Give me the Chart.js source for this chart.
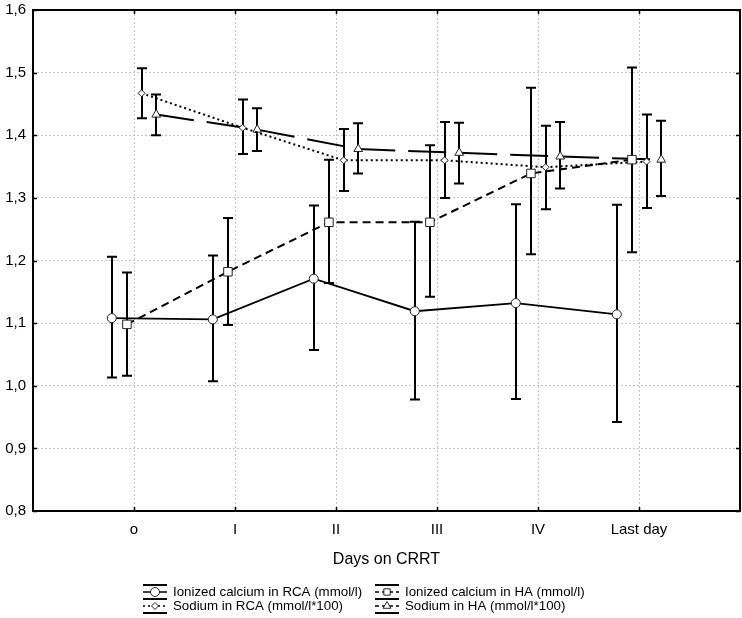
<!DOCTYPE html>
<html>
<head>
<meta charset="utf-8">
<script src="https://cdn.jsdelivr.net/npm/chart.js@4.4.1/dist/chart.umd.min.js"></script>
<style>
  html, body { margin: 0; padding: 0; background: #fff; }
  #wrap { width: 742px; height: 618px; }
</style>
</head>
<body>
<div id="wrap"><canvas id="chart" width="742" height="618"></canvas></div>
<script>
// days on CRRT
var days = ['o', 'I', 'II', 'III', 'IV', 'Last day'];

// ionized calcium, RCA (mmol/l): mean and whisker ends
var caRcaMean = [1.108, 1.106, 1.171, 1.119, 1.132, 1.114];
var caRcaLow  = [1.013, 1.007, 1.057, 0.978, 0.979, 0.942];
var caRcaHigh = [1.206, 1.208, 1.288, 1.262, 1.290, 1.289];

// ionized calcium, HA (mmol/l)
var caHaMean = [1.098, 1.182, 1.261, 1.261, 1.339, 1.361];
var caHaLow  = [1.016, 1.097, 1.164, 1.142, 1.210, 1.213];
var caHaHigh = [1.181, 1.268, 1.361, 1.384, 1.476, 1.508];

// sodium, RCA (mmol/l*100)
var naRcaMean = [1.467, 1.412, 1.360, 1.360, 1.349, 1.358];
var naRcaLow  = [1.427, 1.370, 1.311, 1.300, 1.282, 1.284];
var naRcaHigh = [1.507, 1.457, 1.410, 1.421, 1.415, 1.433];

// sodium, HA (mmol/l*100)
var naHaMean = [1.433, 1.409, 1.378, 1.372, 1.366, 1.361];
var naHaLow  = [1.400, 1.375, 1.339, 1.323, 1.315, 1.303];
var naHaHigh = [1.465, 1.443, 1.419, 1.420, 1.421, 1.423];

var FONT = '"Liberation Sans", Arial, sans-serif';

// small horizontal shift so the four groups don't sit on top of each other
function makeSeries(label, mean, low, high, shift, style){
  return {
    label: label,
    data: mean.map(function(v, i){ return {x: i + shift, y: v}; }),
    low: low,
    high: high,
    borderColor: '#000',
    borderWidth: style.width,
    borderDash: style.dash,
    pointStyle: style.point,
    pointRadius: style.radius,
    pointBackgroundColor: '#fff',
    pointBorderColor: '#222',
    pointBorderWidth: 1,
    fill: false,
    tension: 0
  };
}

var datasets = [
  makeSeries('Ionized calcium in RCA (mmol/l)', caRcaMean, caRcaLow, caRcaHigh, -0.22,
    {width: 1.8, dash: [], point: 'circle', radius: 4.5}),
  makeSeries('Ionized calcium in HA (mmol/l)', caHaMean, caHaLow, caHaHigh, -0.07,
    {width: 2, dash: [8, 5], point: 'rect', radius: 6}),
  makeSeries('Sodium in RCA (mmol/l*100)', naRcaMean, naRcaLow, naRcaHigh, 0.075,
    {width: 2, dash: [2, 3], point: 'rectRot', radius: 3.5}),
  makeSeries('Sodium in HA (mmol/l*100)', naHaMean, naHaLow, naHaHigh, 0.22,
    {width: 2, dash: [38, 13], point: 'triangle', radius: 5})
];

// stretch the plot to the right edge like the original (chart.js keeps a few px free)
var stretchRight = {
  id: 'stretchRight',
  afterLayout: function(chart){
    var xs = chart.scales.x;
    var target = chart.width - 2;
    var d = target - chart.chartArea.right;
    if (d <= 0) return;
    xs.right += d;
    xs.width += d;
    xs.configure();
    chart.chartArea.right += d;
    chart.chartArea.width += d;
  }
};

// whiskers, drawn under the lines and markers
var errorBars = {
  id: 'errorBars',
  beforeDatasetsDraw: function(chart){
    var ctx = chart.ctx;
    var xs = chart.scales.x, ys = chart.scales.y;
    ctx.save();
    ctx.strokeStyle = '#000';
    ctx.lineWidth = 2;
    ctx.setLineDash([]);
    chart.data.datasets.forEach(function(ds){
      ds.data.forEach(function(p, i){
        var x = Math.round(xs.getPixelForValue(p.x));
        var y0 = ys.getPixelForValue(ds.low[i]);
        var y1 = ys.getPixelForValue(ds.high[i]);
        ctx.beginPath();
        ctx.moveTo(x, y0); ctx.lineTo(x, y1);
        ctx.moveTo(x - 5, y0); ctx.lineTo(x + 5, y0);
        ctx.moveTo(x - 5, y1); ctx.lineTo(x + 5, y1);
        ctx.stroke();
      });
    });
    ctx.restore();
  }
};

// box frame with small inward ticks, like the original
var frame = {
  id: 'frame',
  afterDraw: function(chart){
    var ctx = chart.ctx, a = chart.chartArea;
    var xs = chart.scales.x, ys = chart.scales.y;
    ctx.save();
    ctx.strokeStyle = '#000';
    ctx.setLineDash([]);
    ctx.lineWidth = 1.5;
    ctx.beginPath();
    xs.ticks.forEach(function(t){
      if (t.value < 0 || t.value > 5) return;
      var x = Math.round(xs.getPixelForValue(t.value)) + 0.5;
      ctx.moveTo(x, a.bottom); ctx.lineTo(x, a.bottom - 4);
      ctx.moveTo(x, a.top); ctx.lineTo(x, a.top + 4);
    });
    ys.ticks.forEach(function(t){
      var y = Math.round(ys.getPixelForValue(t.value)) + 0.5;
      ctx.moveTo(a.left, y); ctx.lineTo(a.left + 4, y);
      ctx.moveTo(a.right, y); ctx.lineTo(a.right - 4, y);
    });
    ctx.stroke();
    ctx.lineWidth = 2;
    ctx.strokeRect(a.left, a.top, a.right - a.left, a.bottom - a.top);
    ctx.restore();
  }
};

// legend in two columns under the axis title
var legendBox = {
  id: 'legendBox',
  afterDraw: function(chart){
    var ctx = chart.ctx;
    var slots = [
      {x: 143, y: 592}, {x: 375, y: 592},
      {x: 143, y: 606}, {x: 375, y: 606}
    ];
    ctx.save();
    chart.data.datasets.forEach(function(ds, i){
      var s = slots[i];
      var w = 24;
      ctx.strokeStyle = '#000';
      ctx.lineWidth = 2;
      ctx.setLineDash([]);
      ctx.beginPath();
      ctx.moveTo(s.x, s.y - 7); ctx.lineTo(s.x + w, s.y - 7);
      ctx.moveTo(s.x, s.y + 7); ctx.lineTo(s.x + w, s.y + 7);
      ctx.stroke();
      ctx.lineWidth = 1.5;
      ctx.setLineDash(ds.borderDash.length ? [Math.min(ds.borderDash[0], 4), 3] : []);
      ctx.beginPath();
      ctx.moveTo(s.x, s.y); ctx.lineTo(s.x + w, s.y);
      ctx.stroke();
      ctx.setLineDash([]);
      ctx.fillStyle = '#fff';
      ctx.strokeStyle = '#222';
      ctx.lineWidth = 1;
      Chart.helpers.drawPoint(ctx, {
        pointStyle: ds.pointStyle,
        radius: Math.min(ds.pointRadius, 4.5),
        rotation: 0,
        borderWidth: 1
      }, s.x + w / 2, s.y);
      ctx.fillStyle = '#000';
      ctx.font = '13.3px ' + FONT;
      ctx.textBaseline = 'middle';
      ctx.textAlign = 'left';
      ctx.fillText(ds.label, s.x + w + 6, s.y);
    });
    ctx.restore();
  }
};

new Chart(document.getElementById('chart'), {
  type: 'line',
  data: {datasets: datasets},
  options: {
    responsive: false,
    animation: false,
    devicePixelRatio: 1,
    layout: {padding: {top: 10, right: 2, left: 0, bottom: 0}},
    plugins: {legend: {display: false}, tooltip: {enabled: false}},
    scales: {
      x: {
        type: 'linear',
        min: -1,
        max: 6,
        afterFit: function(s){
          s.height = 107;
          s.paddingLeft = 0;
          s.paddingRight = 0;
        },
        afterBuildTicks: function(s){
          s.ticks = [-1, 0, 1, 2, 3, 4, 5, 6].map(function(v){ return {value: v}; });
        },
        ticks: {
          autoSkip: false,
          maxRotation: 0,
          padding: 10,
          color: '#000',
          font: {family: FONT, size: 15},
          callback: function(v){ return days[v] || ''; }
        },
        grid: {color: '#c4c4c4', lineWidth: 1, drawTicks: false},
        border: {display: false, dash: [2, 2]},
        title: {
          display: true,
          text: 'Days on CRRT',
          color: '#000',
          font: {family: FONT, size: 16},
          padding: {top: 0, bottom: 49}
        }
      },
      y: {
        min: 0.8,
        max: 1.6,
        afterFit: function(s){
          s.width = 33;
          s.paddingTop = 0;
          s.paddingBottom = 0;
        },
        ticks: {
          stepSize: 0.1,
          padding: 7,
          color: '#000',
          font: {family: FONT, size: 15},
          callback: function(v){ return v.toFixed(1).replace('.', ','); }
        },
        grid: {color: '#c4c4c4', lineWidth: 1, drawTicks: false},
        border: {display: false, dash: [2, 2]}
      }
    }
  },
  plugins: [stretchRight, errorBars, frame, legendBox]
});
</script>
</body>
</html>
